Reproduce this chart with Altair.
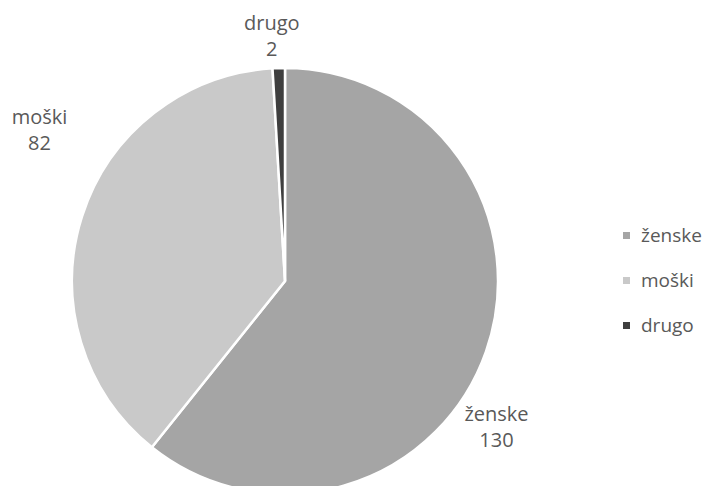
import altair as alt
import pandas as pd

categories = ["ženske", "moški", "drugo"]
values = [130, 82, 2]
colors = ["#a5a5a5", "#c9c9c9", "#3f3f3f"]

df = pd.DataFrame({
    "cat": categories,
    "val": values,
    "ord": [0, 1, 2],
})
df["label"] = df["cat"] + "\n" + df["val"].astype(str)

CX, CY, R = 277, 273, 213
FONT = "Open Sans"
FS = 20
TXT = "#595959"

base = alt.Chart(df).encode(
    theta=alt.Theta("val:Q", stack=True),
    order=alt.Order("ord:Q"),
    x=alt.value(CX),
    y=alt.value(CY),
)

pie = base.mark_arc(outerRadius=R, stroke="white", strokeWidth=2.5).encode(
    color=alt.Color(
        "cat:N",
        scale=alt.Scale(domain=categories, range=colors),
        sort=categories,
        legend=alt.Legend(
            title=None,
            orient="none",
            legendX=609,
            legendY=218,
            symbolType="square",
            symbolSize=49,
            symbolStrokeWidth=0,
            labelFontSize=19,
            labelFont=FONT,
            labelColor=TXT,
            rowPadding=25,
            labelOffset=5,
            labelLimit=0,
        ),
    )
)

def lbl(cat, radius, dx, dy):
    return base.mark_text(
        radius=radius, dx=dx, dy=dy, fontSize=FS, font=FONT,
        lineBreak="\n", lineHeight=26, align="center", baseline="middle",
    ).encode(
        text="label:N",
        opacity=alt.condition(alt.datum.cat == cat, alt.value(1), alt.value(0)),
        color=alt.value(TXT),
    )

chart = alt.layer(
    pie,
    lbl("ženske", 240, -15, 54),
    lbl("moški", 245, -12, -89),
    lbl("drugo", 246, -6, -11),
).properties(
    width=699, height=478, padding=0,
    autosize=alt.AutoSizeParams(type="none"),
).configure_view(stroke=None)

chart.save("out.html", embed_options={"renderer": "svg", "actions": False})
